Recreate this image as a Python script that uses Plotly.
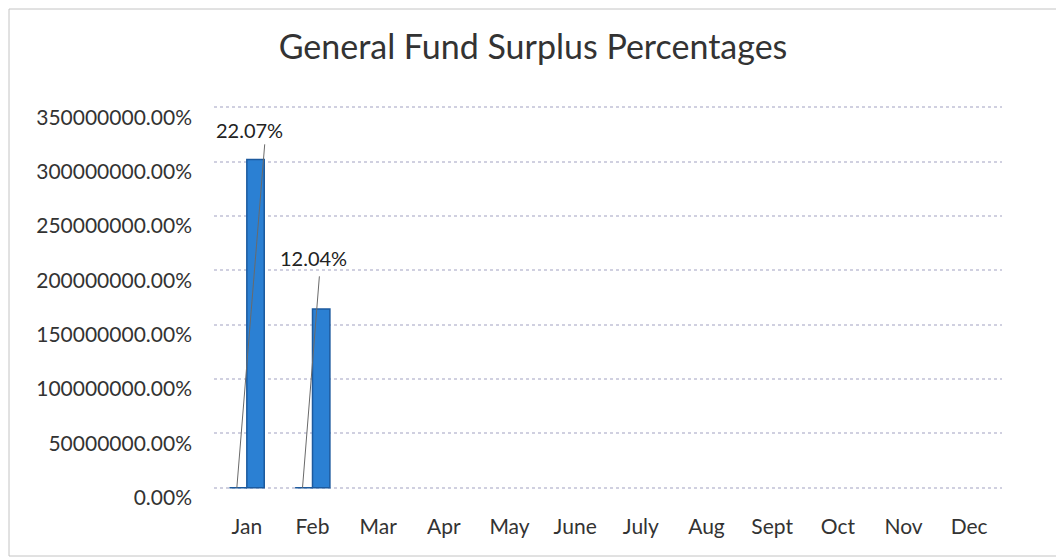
import plotly.graph_objects as go

months = ["Jan", "Feb", "Mar", "Apr", "May", "June", "July", "Aug", "Sept", "Oct", "Nov", "Dec"]
# values in percent units
surplus_pct = [22.07, 12.04, None, None, None, None, None, None, None, None, None, None]
surplus_raw_pct = [302000000, 164500000, None, None, None, None, None, None, None, None, None, None]
label_texts = ["22.07%", "12.04%"]
y_ticks = [0, 50000000, 100000000, 150000000, 200000000, 250000000, 300000000, 350000000]

bar_color = "#2b80d3"
edge_color = "#1c5a9e"
FONT = "Lato, Open Sans, sans-serif"

L, T, PW, PH = 206, 97, 788, 385
W, H = 1064, 558

fig = go.Figure()
fig.add_trace(go.Bar(x=months, y=surplus_pct, marker=dict(color=bar_color, line=dict(color=edge_color, width=1.5)),
                     name="Surplus %", showlegend=False))
fig.add_trace(go.Bar(x=months, y=surplus_raw_pct, marker=dict(color=bar_color, line=dict(color=edge_color, width=1.5)),
                     name="Surplus", showlegend=False))

# (label xshift, label yshift, line tail ax, line tail ay)
label_pos = [(3, 358, 28, -345), (1, 230, 17, -213)]
for i, txt in enumerate(label_texts):
    lx, ly, ax, ay = label_pos[i]
    fig.add_annotation(x=months[i], y=surplus_pct[i], xref="x", yref="y", text=txt, showarrow=False,
                       xshift=lx, yshift=ly, font=dict(family=FONT, size=20, color="#222222"))
    fig.add_annotation(x=months[i], y=surplus_pct[i], xref="x", yref="y", text="", showarrow=True,
                       arrowhead=0, arrowwidth=1, arrowcolor="#6a6a6a", ax=ax, ay=ay, xshift=-10,
                       standoff=0, startstandoff=0)

def px_to_paper_x(px):
    return (px - L) / PW

def px_to_paper_y(py):
    return 1 - (py - T) / PH

fig.add_shape(type="rect", xref="paper", yref="paper",
              x0=px_to_paper_x(1), x1=px_to_paper_x(1052), y0=px_to_paper_y(548), y1=px_to_paper_y(1),
              line=dict(color="#c4c4c4", width=1))

fig.update_layout(
    width=W, height=H,
    margin=dict(l=L, r=W - L - PW, t=T, b=H - T - PH),
    paper_bgcolor="white", plot_bgcolor="white",
    title=dict(text="General Fund Surplus Percentages", x=0.4934, xanchor="center", y=0.930, yanchor="middle",
               font=dict(family=FONT, size=34, color="#333333")),
    barmode="group", bargap=0.47, bargroupgap=0.0,
    font=dict(family=FONT, size=21, color="#333333"),
    xaxis=dict(showgrid=False, showline=False, ticks="", tickfont=dict(size=21), ticklabelstandoff=22),
    yaxis=dict(range=[-2000000, 352000000], tickvals=y_ticks, ticktext=[f"{v:.2f}%" for v in y_ticks],
               showgrid=True, gridcolor="#d0d0e0", griddash="dot", gridwidth=1.5, zeroline=False,
               ticklabelstandoff=21, ticklabelshift=10, tickfont=dict(size=21)),
)

fig.write_html("out.html")
